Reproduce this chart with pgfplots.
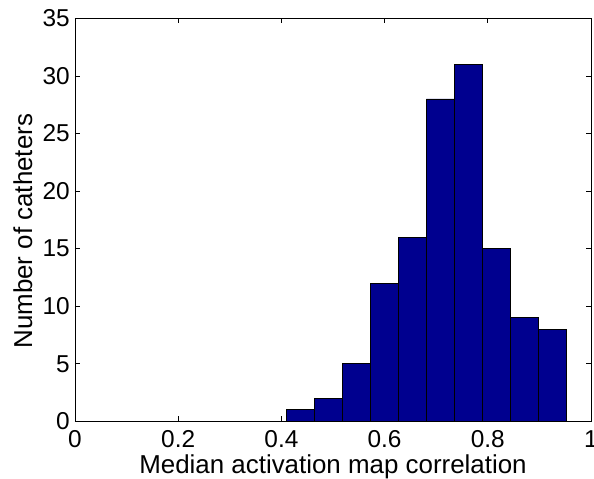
\documentclass[border=0pt]{standalone}
\usepackage{fontspec}
\setmainfont{Liberation Sans}
\usepackage{pgfplots}
\pgfplotsset{compat=1.18}
\definecolor{matblue}{RGB}{0,0,143}
\begin{document}
\begin{tikzpicture}
\begin{axis}[
    scale only axis,
    width=516bp, height=403bp,
    xmin=0, xmax=1, ymin=0, ymax=35,
    xtick={0,0.2,...,1}, ytick={0,5,...,35},
    xticklabels={0,0.2,0.4,0.6,0.8,1},
    tick align=inside,
    major tick length=5bp,
    axis line style={line width=0.9bp},
    every tick/.style={black, line width=0.7bp},
    /pgf/number format/assume math mode=true,
    tick label style={font=\fontsize{24.5}{26}\selectfont, inner sep=0pt},
    label style={font=\fontsize{26}{28}\selectfont, inner sep=0pt},
    xticklabel style={anchor=north, yshift=-9bp},
    yticklabel style={anchor=east, xshift=-5bp},
    xlabel={Median activation map correlation},
    ylabel={Number of catheters},
    xlabel style={at={(axis description cs:0.5,-0.129)}, anchor=base},
    ylabel style={at={(axis description cs:-0.0833,0.4715)}, anchor=base},
]
\addplot[ybar interval, fill=matblue, draw=black, line width=0.6bp] coordinates {
(0.410,1) (0.4642,2) (0.5183,5) (0.5725,12) (0.6266,16) (0.6808,28)
(0.7350,31) (0.7891,15) (0.8433,9) (0.8974,8) (0.9516,8)};
\end{axis}
\pgfresetboundingbox
\path[use as bounding box] (-75bp,-57bp) rectangle (519bp,421.3bp);
\end{tikzpicture}
\end{document}
